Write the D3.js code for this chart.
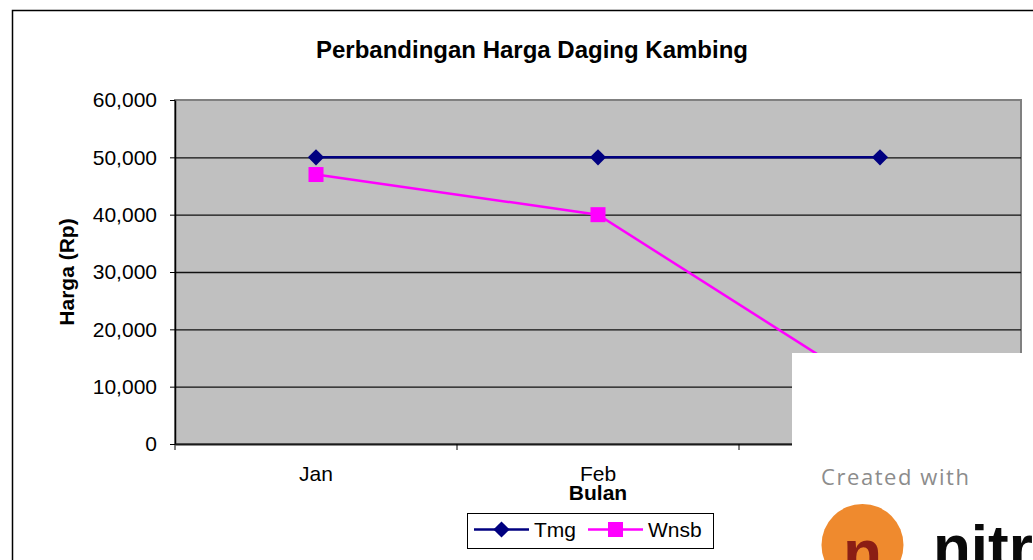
<!DOCTYPE html>
<html>
<head>
<meta charset="utf-8">
<script src="https://cdn.jsdelivr.net/npm/d3@7"></script>
<style>
  body { margin: 0; background: #fff; }
  svg { display: block; font-family: "Liberation Sans", Arial, sans-serif; }
</style>
</head>
<body>
<div id="wrapper"></div>
<script>

// data
const categories = ["Jan", "Feb", "Mar"]
const tmgValues = [50000, 50000, 50000]
const wnsbValues = [47000, 40000, 8700]
const yTickValues = [0, 10000, 20000, 30000, 40000, 50000, 60000]
const seriesNames = ["Tmg", "Wnsb"]

function drawLineChart() {

// 1. Access data
  const tmgData = categories.map((c, i) => ({ month: c, value: tmgValues[i] }))
  const wnsbData = categories.map((c, i) => ({ month: c, value: wnsbValues[i] }))
  const monthAccessor = d => d.month
  const valueAccessor = d => d.value

// 2. Create chart dimensions
  let dimensions = {
    width: 1033,
    height: 560,
    margin: {
      top: 100,
      right: 12,
      bottom: 116,
      left: 175,
    },
  }
  dimensions.boundedWidth = dimensions.width
    - dimensions.margin.left
    - dimensions.margin.right
  dimensions.boundedHeight = dimensions.height
    - dimensions.margin.top
    - dimensions.margin.bottom

// 3. Draw canvas
  const wrapper = d3.select("#wrapper")
    .append("svg")
      .attr("width", dimensions.width)
      .attr("height", dimensions.height)

  // chart frame, runs off the right and bottom edge
  wrapper.append("rect")
      .attr("x", 12.5)
      .attr("y", 10.5)
      .attr("width", 1100)
      .attr("height", 700)
      .attr("fill", "#fff")
      .attr("stroke", "#000")
      .attr("stroke-width", 1.5)

  const bounds = wrapper.append("g")
      .attr("transform", `translate(${dimensions.margin.left}, ${dimensions.margin.top})`)

// 4. Create scales
  const yScale = d3.scaleLinear()
    .domain([0, 60000])
    .range([dimensions.boundedHeight, 0])

  const xScale = d3.scaleBand()
    .domain(categories)
    .range([0, dimensions.boundedWidth])
    .padding(0)

  const xCenter = d => xScale(monthAccessor(d)) + xScale.bandwidth() / 2

// 5. Draw peripherals (plot area first)
  bounds.append("rect")
      .attr("width", dimensions.boundedWidth)
      .attr("height", dimensions.boundedHeight)
      .attr("fill", "#c0c0c0")
      .attr("stroke", "#808080")
      .attr("stroke-width", 2)

  const gridGenerator = d3.axisLeft(yScale)
    .tickValues(yTickValues.filter(v => v > 0 && v < 60000))
    .tickSize(-dimensions.boundedWidth)
    .tickFormat("")
  const grid = bounds.append("g").call(gridGenerator)
  grid.select(".domain").remove()
  grid.selectAll("line").attr("stroke", "#111").attr("stroke-width", 1.3)

  const yAxisGenerator = d3.axisLeft(yScale)
    .tickValues(yTickValues)
    .tickFormat(d3.format(","))
    .tickSize(5)
    .tickSizeOuter(0)
    .tickPadding(13)
  const yAxis = bounds.append("g").call(yAxisGenerator)
  yAxis.select(".domain").attr("stroke", "#000").attr("stroke-width", 1.5)
  yAxis.selectAll("line").attr("stroke", "#000")
  yAxis.selectAll("text")
      .attr("font-size", 21)
      .attr("font-family", "Liberation Sans, Arial, sans-serif")
      .attr("fill", "#000")

  const xAxisGenerator = d3.axisBottom(xScale)
    .tickSize(0)
    .tickSizeOuter(0)
    .tickPadding(22)
  const xAxis = bounds.append("g")
    .attr("transform", `translate(0, ${dimensions.boundedHeight})`)
    .call(xAxisGenerator)
  xAxis.select(".domain").attr("stroke", "#1a1a1a").attr("stroke-width", 2)
  xAxis.selectAll("text")
      .attr("font-size", 21)
      .attr("font-family", "Liberation Sans, Arial, sans-serif")
      .attr("fill", "#000")

  // category boundary ticks
  const boundaries = categories.map(c => xScale(c)).concat(xScale.range()[1])
  xAxis.selectAll(".boundary")
    .data(boundaries)
    .join("line")
      .attr("class", "boundary")
      .attr("x1", d => d)
      .attr("x2", d => d)
      .attr("y1", 0)
      .attr("y2", 6)
      .attr("stroke", "#000")

// 6. Draw data
  const lineGenerator = d3.line()
    .x(xCenter)
    .y(d => yScale(valueAccessor(d)))

  bounds.append("path")
      .attr("d", lineGenerator(wnsbData))
      .attr("fill", "none")
      .attr("stroke", "#ff00ff")
      .attr("stroke-width", 2.5)

  bounds.append("path")
      .attr("d", lineGenerator(tmgData))
      .attr("fill", "none")
      .attr("stroke", "#000080")
      .attr("stroke-width", 2.5)

  const diamond = d3.symbol(d3.symbolSquare, 132)
  const square = d3.symbol(d3.symbolSquare, 225)

  bounds.selectAll(".tmg-mark")
    .data(tmgData)
    .join("path")
      .attr("class", "tmg-mark")
      .attr("d", diamond)
      .attr("transform", d => `translate(${xCenter(d)}, ${yScale(valueAccessor(d))}) rotate(45)`)
      .attr("fill", "#000080")

  bounds.selectAll(".wnsb-mark")
    .data(wnsbData)
    .join("path")
      .attr("class", "wnsb-mark")
      .attr("d", square)
      .attr("transform", d => `translate(${xCenter(d)}, ${yScale(valueAccessor(d))})`)
      .attr("fill", "#ff00ff")

// 7. Titles and legend
  wrapper.append("text")
      .attr("x", 532)
      .attr("y", 58)
      .attr("text-anchor", "middle")
      .attr("font-size", 24)
      .attr("font-weight", "bold")
      .text("Perbandingan Harga Daging Kambing")

  wrapper.append("text")
      .attr("transform", "translate(74, 272) rotate(-90)")
      .attr("text-anchor", "middle")
      .attr("font-size", 21)
      .attr("font-weight", "bold")
      .text("Harga (Rp)")

  wrapper.append("text")
      .attr("x", 598)
      .attr("y", 500)
      .attr("text-anchor", "middle")
      .attr("font-size", 21)
      .attr("font-weight", "bold")
      .text("Bulan")

  const legend = wrapper.append("g")
  legend.append("rect")
      .attr("x", 467.5)
      .attr("y", 513.5)
      .attr("width", 246)
      .attr("height", 35)
      .attr("fill", "#fff")
      .attr("stroke", "#000")
      .attr("stroke-width", 1)

  const legendItems = [
    { name: seriesNames[0], color: "#000080", symbol: diamond, rot: 45, x: 474 },
    { name: seriesNames[1], color: "#ff00ff", symbol: square, rot: 0, x: 588 },
  ]
  const item = legend.selectAll(".item")
    .data(legendItems)
    .join("g")
      .attr("class", "item")
      .attr("transform", d => `translate(${d.x}, 529.5)`)
  item.append("line")
      .attr("x1", 0)
      .attr("x2", 55)
      .attr("stroke", d => d.color)
      .attr("stroke-width", 2.5)
  item.append("path")
      .attr("d", d => d.symbol())
      .attr("transform", d => `translate(27.5, 0) rotate(${d.rot})`)
      .attr("fill", d => d.color)
  item.append("text")
      .attr("x", 60)
      .attr("y", 7.5)
      .attr("font-size", 21)
      .text(d => d.name)

// 8. Watermark block that sits over the corner
  const mark = wrapper.append("g")
  mark.append("rect")
      .attr("x", 792)
      .attr("y", 353)
      .attr("width", 260)
      .attr("height", 220)
      .attr("fill", "#fff")
  mark.append("text")
      .attr("x", 821)
      .attr("y", 485)
      .attr("font-family", "Open Sans, sans-serif")
      .attr("font-size", 22)
      .attr("fill", "#8c8c8c")
      .attr("textLength", 148)
      .text("Created with")
  mark.append("circle")
      .attr("cx", 862.5)
      .attr("cy", 545)
      .attr("r", 41)
      .attr("fill", "#ef8a2e")
  mark.append("text")
      .attr("x", 862.5)
      .attr("y", 575)
      .attr("text-anchor", "middle")
      .attr("font-size", 64)
      .attr("font-weight", "bold")
      .attr("fill", "#8b1e14")
      .text("n")
  mark.append("text")
      .attr("x", 933)
      .attr("y", 568)
      .attr("font-size", 62)
      .attr("font-weight", "bold")
      .attr("fill", "#0a0a0a")
      .text("nitro")
}

drawLineChart()

</script>
</body>
</html>
